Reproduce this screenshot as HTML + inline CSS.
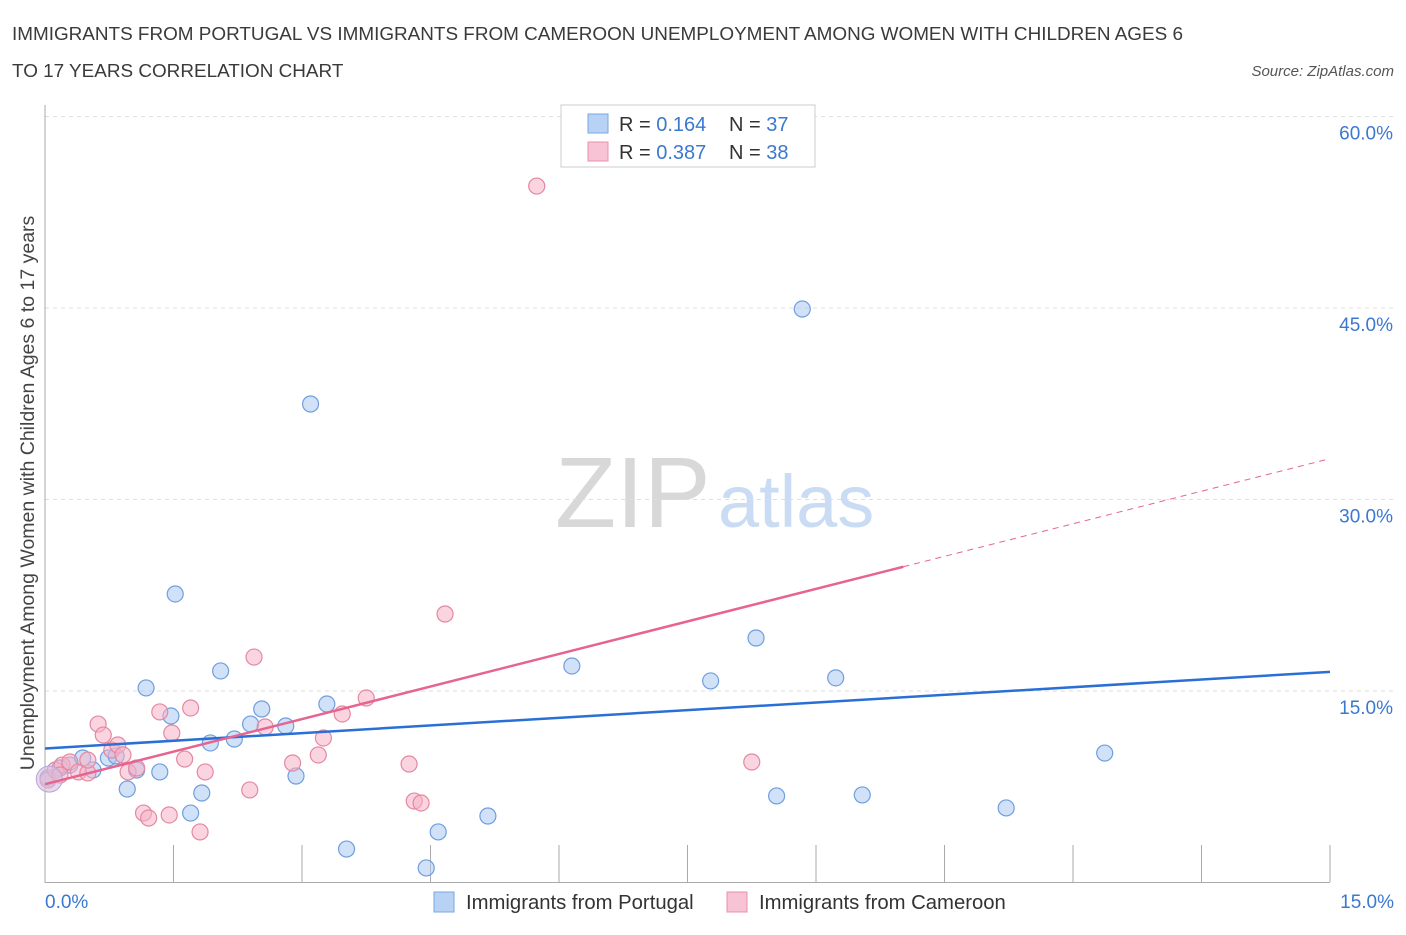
<!DOCTYPE html>
<html><head><meta charset="utf-8"><style>
body{margin:0;background:#fff;font-family:"Liberation Sans",sans-serif;}
svg text{font-family:"Liberation Sans",sans-serif;}
</style></head><body>
<svg id="chart" width="1406" height="930" xmlns="http://www.w3.org/2000/svg">
<text x="12" y="40" font-size="18.9" fill="#3a3a3a">IMMIGRANTS FROM PORTUGAL VS IMMIGRANTS FROM CAMEROON UNEMPLOYMENT AMONG WOMEN WITH CHILDREN AGES 6</text>
<text x="12" y="77" font-size="18.9" fill="#3a3a3a">TO 17 YEARS CORRELATION CHART</text>
<text x="1394" y="76" font-size="15" fill="#555" text-anchor="end" font-style="italic">Source: ZipAtlas.com</text>
<text x="555" y="527" font-size="100" fill="#d8d8d8" font-family="Liberation Serif">ZIP</text>
<text x="718" y="527" font-size="74" fill="#c9dcf3">atlas</text>
<text transform="translate(34,493) rotate(-90)" font-size="19.5" fill="#444" text-anchor="middle">Unemployment Among Women with Children Ages 6 to 17 years</text>
<g id="grid"></g><g id="marks"></g>
<g>
<rect x="561" y="105" width="254" height="62" fill="#fff" stroke="#ccc"/>
<rect x="588" y="114" width="20" height="19" fill="#b8d2f6" stroke="#7aa6e0"/>
<rect x="588" y="142" width="20" height="19" fill="#f8c3d4" stroke="#e890ad"/>
<text x="619" y="131" font-size="20" fill="#333">R = <tspan fill="#3b78d0">0.164</tspan><tspan x="729">N = </tspan><tspan fill="#3b78d0">37</tspan></text>
<text x="619" y="159" font-size="20" fill="#333">R = <tspan fill="#3b78d0">0.387</tspan><tspan x="729">N = </tspan><tspan fill="#3b78d0">38</tspan></text>
</g>
<g>
<rect x="434" y="892" width="20" height="20" fill="#b8d2f6" stroke="#7aa6e0"/>
<text x="466" y="909" font-size="20.3" fill="#333">Immigrants from Portugal</text>
<rect x="727" y="892" width="20" height="20" fill="#f8c3d4" stroke="#e890ad"/>
<text x="759" y="909" font-size="20.3" fill="#333">Immigrants from Cameroon</text>
</g>
</svg>
<script>
const yTicks=[15,30,45,60];
const yTickLabels=["15.0%","30.0%","45.0%","60.0%"];
const xTickLabels=["0.0%","15.0%"];
const portugalX=[0.035,0.175,0.29,0.44,0.56,0.74,0.83,0.96,1.07,1.18,1.34,1.47,1.52,1.70,1.83,1.93,2.05,2.21,2.40,2.53,2.81,2.93,3.10,3.29,3.52,4.45,4.59,5.17,6.15,7.77,8.30,8.54,9.23,9.54,11.22,12.37,8.84];
const portugalY=[8.19,8.97,9.2,9.75,8.81,9.75,9.91,7.32,8.81,15.24,8.66,13.04,22.6,5.44,7.01,10.93,16.57,11.24,12.41,13.59,12.26,8.34,37.48,13.98,2.62,1.14,3.96,5.21,16.96,15.79,19.15,6.78,16.03,6.86,5.84,10.14,44.92];
const cameroonX=[0.035,0.12,0.20,0.29,0.39,0.50,0.62,0.68,0.78,0.85,0.91,0.97,1.07,1.15,1.21,1.34,1.45,1.48,1.63,1.70,1.81,1.87,2.39,2.44,2.57,2.89,3.19,3.25,3.47,3.75,4.25,4.31,4.39,4.67,5.74,8.25,0.50,0.175];
const cameroonY=[8.03,8.81,9.2,9.44,8.66,8.58,12.41,11.55,10.38,10.77,9.99,8.66,8.97,5.44,5.05,13.36,5.29,11.71,9.67,13.67,3.96,8.66,7.25,17.66,12.18,9.36,9.99,11.32,13.2,14.45,9.28,6.38,6.23,21.03,54.55,9.44,9.59,8.42];
const portugalTrend=[10.5,16.5];   // y at x=0 and x=15
const cameroonTrend=[7.7,33.2];    // y at x=0 and x=15
const cameroonSolidEnd=10.02;
const NS="http://www.w3.org/2000/svg";
const X=v=>45+v*1285/15, Y=v=>882.5-v*191.5/15;
function mk(tag,attrs,parent){const e=document.createElementNS(NS,tag);for(const k in attrs)e.setAttribute(k,attrs[k]);parent.appendChild(e);return e;}
const grid=document.getElementById('grid'), marks=document.getElementById('marks');
yTicks.forEach((t,i)=>{
 const l=mk('line',{x1:45,x2:1394,y1:Y(t),y2:Y(t),stroke:'#ddd','stroke-dasharray':'4,4'},grid);
 
 
 const tx=mk('text',{x:1393,y:Y(t)+23,'font-size':19,fill:'#3b78d0','text-anchor':'end'},grid);
 tx.textContent=yTickLabels[i];
 
 
});
const ax=mk('path',{d:'M45 105 V882.5 H1330',stroke:'#aaa',fill:'none'},grid);


for(let i=0;i<=10;i++){const v=i*1.5;const t=mk('line',{x1:X(v),x2:X(v),y1:845,y2:882,stroke:'#aaa'},grid);
 
 }
[[0,'start',45],[15,'end',1394]].forEach((a,i)=>{const t=mk('text',{x:a[2],y:908,'font-size':19,fill:'#3b78d0','text-anchor':a[1]},grid);t.textContent=xTickLabels[i];
 
 });
function pts(xs,ys,fill,stroke,name){xs.forEach((x,i)=>{const c=mk('circle',{cx:X(x),cy:Y(ys[i]),r:8,fill:fill,'fill-opacity':0.55,stroke:stroke,'stroke-width':1.2},marks);
 
 });}
pts(portugalX,portugalY,'#a9c8f2','#6f9ede','point-portugal');
pts(cameroonX,cameroonY,'#f6b3c9','#e4889f','point-cameroon');
const big=mk('circle',{cx:X(0.05),cy:Y(8.1),r:13,fill:'#d4bfe0','fill-opacity':0.6,stroke:'#b9a3d8'},marks);


const bl=mk('line',{x1:X(0),y1:Y(portugalTrend[0]),x2:X(15),y2:Y(portugalTrend[1]),stroke:'#2a6fd6','stroke-width':2.5},marks);


const cy=x=>cameroonTrend[0]+(cameroonTrend[1]-cameroonTrend[0])*x/15;
const pl=mk('line',{x1:X(0),y1:Y(cy(0)),x2:X(cameroonSolidEnd),y2:Y(cy(cameroonSolidEnd)),stroke:'#e6648f','stroke-width':2.5},marks);


const pd=mk('line',{x1:X(cameroonSolidEnd),y1:Y(cy(cameroonSolidEnd)),x2:X(15),y2:Y(cy(15)),stroke:'#e6648f','stroke-width':1,'stroke-dasharray':'6,5'},marks);


</script>
</body></html>
